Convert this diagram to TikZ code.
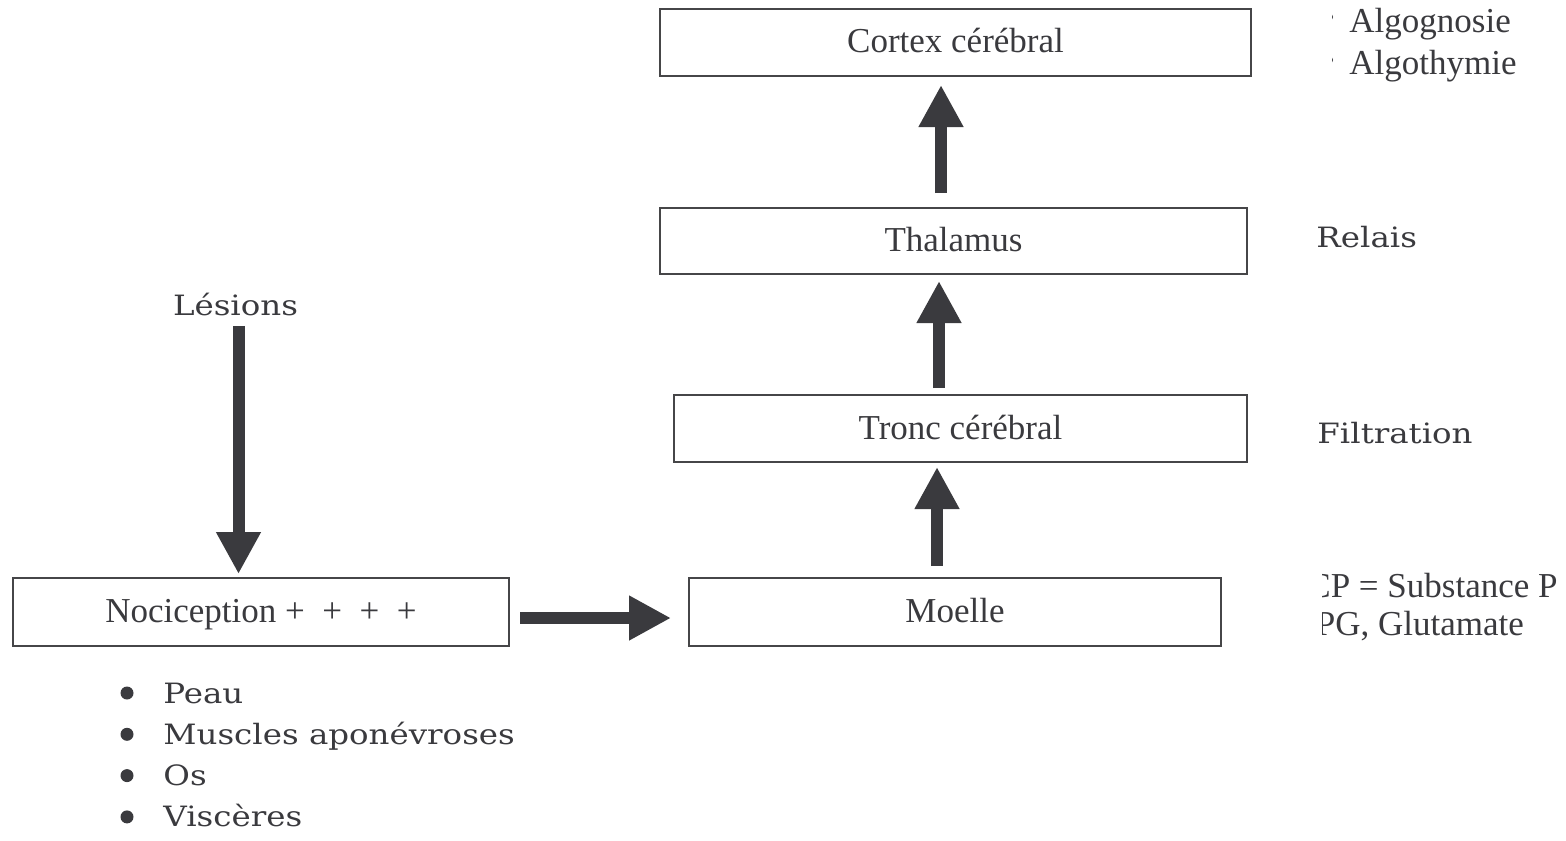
\documentclass[tikz,border=0pt]{standalone}
\usepackage{fontspec}
\setmainfont{Liberation Serif}
\newfontfamily\labelfont[FakeStretch=1.16]{DejaVu Serif}
\usetikzlibrary{arrows.meta,positioning}
\definecolor{inkgrey}{RGB}{58,58,62}
\definecolor{framegrey}{RGB}{70,70,72}
\tikzset{
  box/.style={draw=framegrey,line width=1pt,inner sep=0pt,text=inkgrey,
    text height=12.25pt,text depth=1.75pt,font=\fontsize{17.5}{21}\selectfont},
  lab/.style={font=\labelfont\fontsize{14}{17}\selectfont,text=inkgrey,inner sep=0pt},
  side/.style={font=\fontsize{17.5}{21}\selectfont,text=inkgrey,inner sep=0pt,anchor=base west},
  bigarrow/.style={draw=inkgrey,line width=6pt,-{Triangle[width=21pt,length=21pt]}},
}

\begin{document}
\begin{tikzpicture}[x=0.5pt,y=-0.5pt]
  \useasboundingbox (0,0) rectangle (1566,840);
  % boxes
  \node[box,minimum width=295.5pt,minimum height=33.5pt] (cortex) at (955.5,42.5) {Cortex cérébral};
  \node[box,minimum width=293.5pt,minimum height=33pt] (thalamus) at (953.5,241) {Thalamus};
  \node[box,minimum width=286.5pt,minimum height=33.5pt] (tronc) at (960.5,428.5) {Tronc cérébral};
  \node[box,minimum width=266pt,minimum height=34pt] (moelle) at (955,611.5) {Moelle};
  \node[box,minimum width=248pt,minimum height=34pt] (noci) at (261,612) {Nociception +\ \ +\ \ +\ \ +};
  % labels
  \node[lab,anchor=base] (lesions) at (235.5,315) {Lésions};
  \node[lab,anchor=base west] (relais) at (1316,247) {Relais};
  \node[lab,anchor=base west] (filtration) at (1317,443) {Filtration};
  % arrows
  \draw[bigarrow,shorten <=5pt,shorten >=1.5pt] ([xshift=1.5pt]lesions.south) -- ([xshift=1.5pt]lesions.south |- noci.north);
  \draw[bigarrow,shorten <=5pt,shorten >=8.5pt] ([yshift=-3pt]noci.east) -- ([yshift=-3pt]noci.east -| moelle.west);
  \draw[bigarrow,shorten <=5.5pt,shorten >=2pt] ([xshift=-9pt]moelle.north) -- ([xshift=-11.75pt]tronc.south);
  \draw[bigarrow,shorten <=3pt,shorten >=3pt] ([xshift=-10.75pt]tronc.north) -- ([xshift=-7.25pt]thalamus.south);
  \draw[bigarrow,shorten <=7pt,shorten >=4pt] ([xshift=-6.25pt]thalamus.north) -- ([xshift=-7.25pt]cortex.south);
  % side notes, cut at the left
  \begin{scope}
    \clip (1332,0) rectangle (1566,100);
    \fill[inkgrey] (1329,17) circle (2pt);
    \fill[inkgrey] (1329,60) circle (2pt);
    \node[side] (algognosie) at (1349,33) {Algognosie};
    \node[side] (algothymie) at (1349,75) {Algothymie};
  \end{scope}
  \begin{scope}
    \clip (1322,560) rectangle (1566,660);
    \node[side] (subp) at (1307,597) {CP = Substance P};
    \node[side] (glut) at (1315.5,635) {PG, Glutamate};
  \end{scope}
  % list under nociception
  \foreach \organe [count=\k] in {Peau,Muscles aponévroses,Os,Viscères}{
    \fill[inkgrey] (127,{703+41.3*(\k-1)-10}) circle (3.25pt);
    \node[lab,anchor=base west] (organe\k) at (163,{703+41.3*(\k-1)}) {\organe};
  }
\end{tikzpicture}
\end{document}
